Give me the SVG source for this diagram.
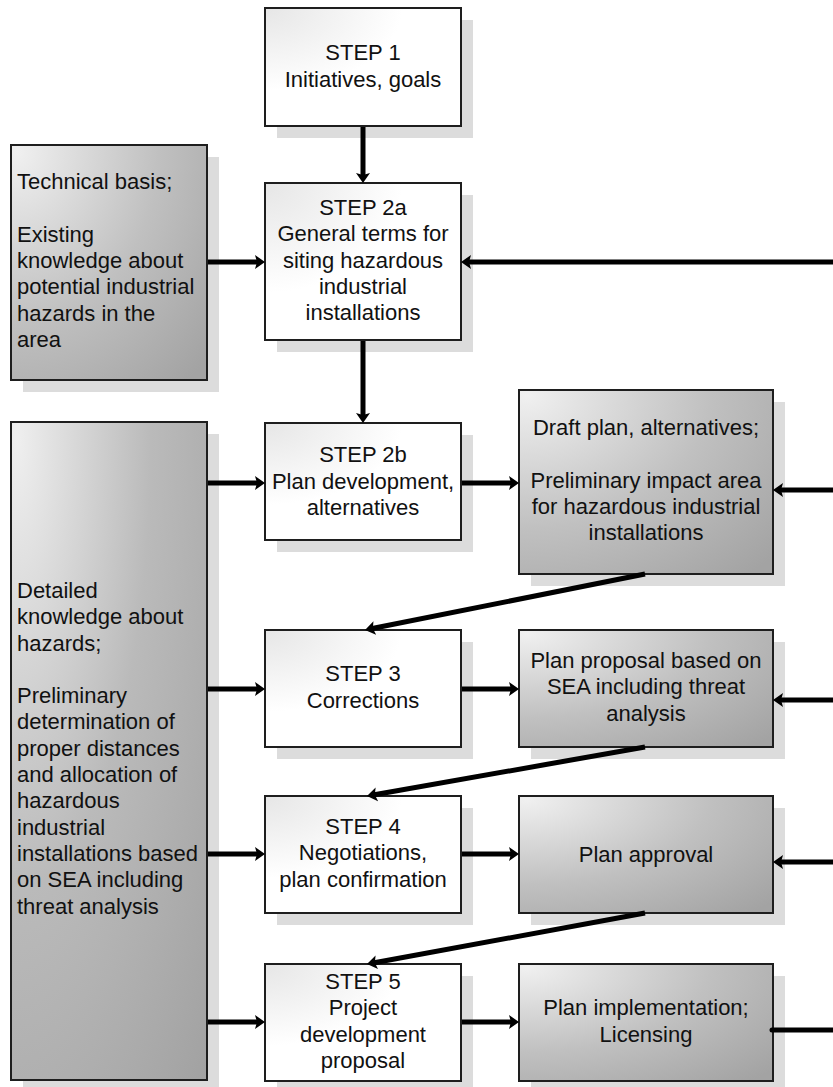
<svg xmlns="http://www.w3.org/2000/svg" width="833" height="1087" viewBox="0 0 833 1087">
<defs>
<radialGradient id="gGray" cx="0" cy="0" fx="0.03" fy="0.03" r="1.35">
<stop offset="0" stop-color="#f0f0f0"/>
<stop offset="0.55" stop-color="#c0c0c0"/>
<stop offset="1" stop-color="#a3a3a3"/>
</radialGradient>
<radialGradient id="gTall" cx="0" cy="0" fx="0.03" fy="0.03" r="1.4">
<stop offset="0" stop-color="#efefef"/>
<stop offset="0.5" stop-color="#bababa"/>
<stop offset="1" stop-color="#a2a2a2"/>
</radialGradient>
<radialGradient id="gWhite" cx="0" cy="0" r="0.7">
<stop offset="0" stop-color="#e6e6e6"/>
<stop offset="1" stop-color="#ffffff"/>
</radialGradient>
<marker id="ah" markerUnits="userSpaceOnUse" markerWidth="12" markerHeight="16" viewBox="0 0 12 16" refX="4" refY="8" orient="auto">
<path d="M0,1 L10,8 L0,15 L2,8 z" fill="#000"/>
</marker>
<style>
.sh{fill:#dcdcdc}
.w{fill:url(#gWhite);stroke:#1e1e1e;stroke-width:2}
.g{fill:url(#gGray);stroke:#1e1e1e;stroke-width:2}
.t{fill:url(#gTall);stroke:#1e1e1e;stroke-width:2}
text{font-family:"Liberation Sans",Arial,sans-serif;font-size:22px;fill:#111}
.c{text-anchor:middle}
.con line{stroke:#000;stroke-width:5;fill:none}
.con .a{marker-end:url(#ah)}
</style>
</defs>

<g id="step1">
<rect class="sh" x="277" y="20" width="196" height="118"/>
<rect class="w" x="265" y="8" width="196" height="118"/>
<text class="c" x="363" y="60">STEP 1</text>
<text class="c" x="363" y="87">Initiatives, goals</text>
</g>

<g id="technical">
<rect class="sh" x="23" y="157" width="196" height="235"/>
<rect class="g" x="11" y="145" width="196" height="235"/>
<text x="17" y="189">Technical basis;</text>
<text x="17" y="242">Existing</text>
<text x="17" y="268">knowledge about</text>
<text x="17" y="294">potential industrial</text>
<text x="17" y="321">hazards in the</text>
<text x="17" y="347">area</text>
</g>

<g id="step2a">
<rect class="sh" x="277" y="195" width="196" height="157"/>
<rect class="w" x="265" y="183" width="196" height="157"/>
<text class="c" x="363" y="215">STEP 2a</text>
<text class="c" x="363" y="241">General terms for</text>
<text class="c" x="363" y="268">siting hazardous</text>
<text class="c" x="363" y="294">industrial</text>
<text class="c" x="363" y="320">installations</text>
</g>

<g id="detailed">
<rect class="sh" x="23" y="434" width="196" height="658"/>
<rect class="t" x="11" y="422" width="196" height="658"/>
<text x="17" y="598">Detailed</text>
<text x="17" y="624">knowledge about</text>
<text x="17" y="651">hazards;</text>
<text x="17" y="703">Preliminary</text>
<text x="17" y="729">determination of</text>
<text x="17" y="756">proper distances</text>
<text x="17" y="782">and allocation of</text>
<text x="17" y="808">hazardous</text>
<text x="17" y="835">industrial</text>
<text x="17" y="861">installations based</text>
<text x="17" y="887">on SEA including</text>
<text x="17" y="914">threat analysis</text>
</g>

<g id="step2b">
<rect class="sh" x="277" y="435" width="196" height="117"/>
<rect class="w" x="265" y="423" width="196" height="117"/>
<text class="c" x="363" y="462">STEP 2b</text>
<text class="c" x="363" y="489">Plan development,</text>
<text class="c" x="363" y="515">alternatives</text>
</g>

<g id="draft">
<rect class="sh" x="531" y="402" width="254" height="184"/>
<rect class="g" x="519" y="390" width="254" height="184"/>
<text class="c" x="646" y="435">Draft plan, alternatives;</text>
<text class="c" x="646" y="488">Preliminary impact area</text>
<text class="c" x="646" y="514">for hazardous industrial</text>
<text class="c" x="646" y="540">installations</text>
</g>

<g id="step3">
<rect class="sh" x="277" y="642" width="196" height="117"/>
<rect class="w" x="265" y="630" width="196" height="117"/>
<text class="c" x="363" y="681">STEP 3</text>
<text class="c" x="363" y="708">Corrections</text>
</g>

<g id="proposal">
<rect class="sh" x="531" y="642" width="254" height="117"/>
<rect class="g" x="519" y="630" width="254" height="117"/>
<text class="c" x="646" y="668">Plan proposal based on</text>
<text class="c" x="646" y="694">SEA including threat</text>
<text class="c" x="646" y="721">analysis</text>
</g>

<g id="step4">
<rect class="sh" x="277" y="808" width="196" height="117"/>
<rect class="w" x="265" y="796" width="196" height="117"/>
<text class="c" x="363" y="834">STEP 4</text>
<text class="c" x="363" y="860">Negotiations,</text>
<text class="c" x="363" y="887">plan confirmation</text>
</g>

<g id="approval">
<rect class="sh" x="531" y="808" width="254" height="117"/>
<rect class="g" x="519" y="796" width="254" height="117"/>
<text class="c" x="646" y="862">Plan approval</text>
</g>

<g id="step5">
<rect class="sh" x="277" y="976" width="196" height="117"/>
<rect class="w" x="265" y="964" width="196" height="117"/>
<text class="c" x="363" y="989">STEP 5</text>
<text class="c" x="363" y="1015">Project</text>
<text class="c" x="363" y="1042">development</text>
<text class="c" x="363" y="1068">proposal</text>
</g>

<g id="implementation">
<rect class="sh" x="531" y="976" width="254" height="117"/>
<rect class="g" x="519" y="964" width="254" height="117"/>
<text class="c" x="646" y="1015">Plan implementation;</text>
<text class="c" x="646" y="1042">Licensing</text>
</g>

<g id="connectors" class="con">
<line class="a" x1="363" y1="127" x2="363" y2="177"/>
<line class="a" x1="363" y1="341" x2="363" y2="417"/>
<line class="a" x1="208" y1="262" x2="259" y2="262"/>
<line class="a" x1="840" y1="262" x2="467" y2="262"/>
<line class="a" x1="208" y1="483" x2="259" y2="483"/>
<line class="a" x1="462" y1="483" x2="513" y2="483"/>
<line class="a" x1="840" y1="490" x2="779" y2="490"/>
<line class="a" x1="645" y1="574" x2="370.9" y2="628.8"/>
<line class="a" x1="208" y1="689" x2="259" y2="689"/>
<line class="a" x1="462" y1="689" x2="513" y2="689"/>
<line class="a" x1="840" y1="700" x2="779" y2="700"/>
<line class="a" x1="645" y1="747" x2="372.9" y2="795"/>
<line class="a" x1="208" y1="854" x2="259" y2="854"/>
<line class="a" x1="462" y1="854" x2="513" y2="854"/>
<line class="a" x1="840" y1="862" x2="779" y2="862"/>
<line class="a" x1="645" y1="913" x2="372.9" y2="963"/>
<line class="a" x1="208" y1="1022" x2="259" y2="1022"/>
<line class="a" x1="462" y1="1022" x2="513" y2="1022"/>
<line x1="772" y1="1030" x2="840" y2="1030" stroke-linecap="round"/>
</g>
</svg>
